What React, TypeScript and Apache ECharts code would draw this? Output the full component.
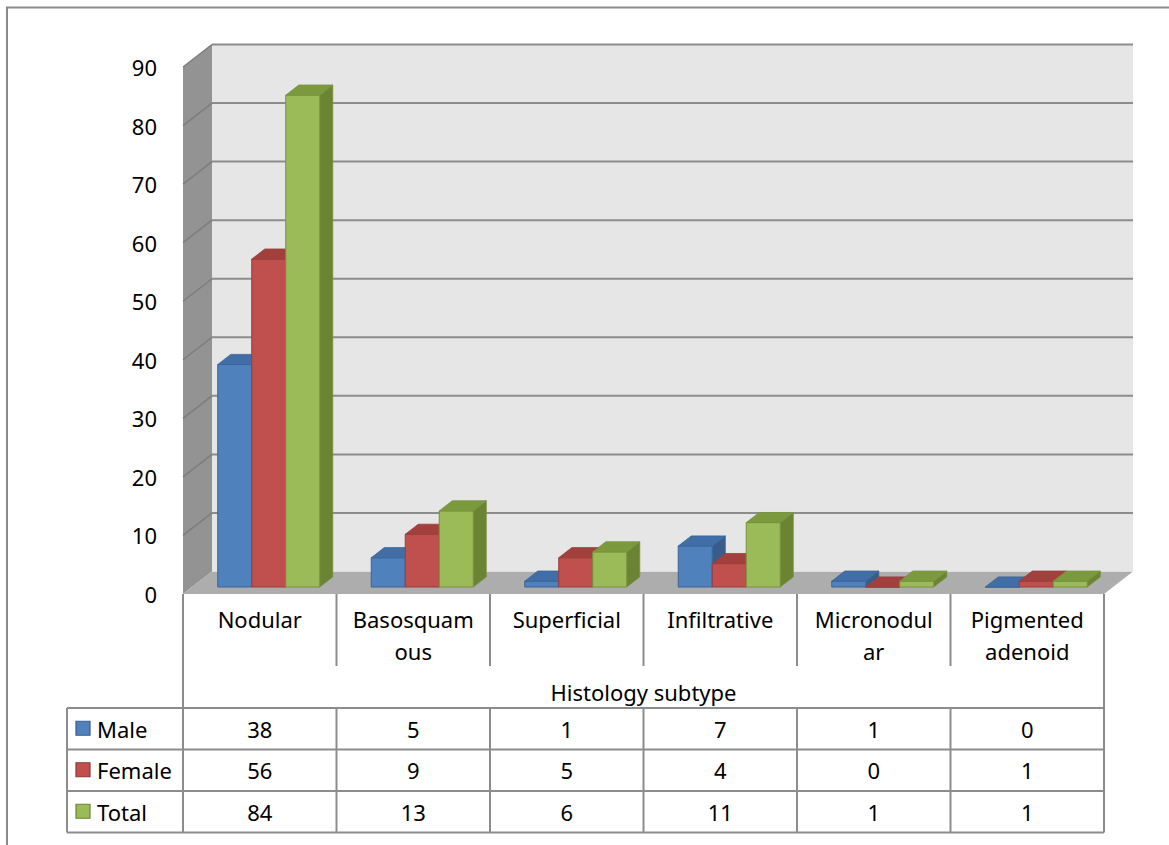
import React, { useEffect, useRef } from "react";
import * as echarts from "echarts";

// ---------- data ----------
const categories = ["Nodular", "Basosquamous", "Superficial", "Infiltrative", "Micronodular", "Pigmented adenoid"];
const categoryLabels = ["Nodular", "Basosquam\nous", "Superficial", "Infiltrative", "Micronodul\nar", "Pigmented\nadenoid"];
const seriesNames = ["Male", "Female", "Total"];
const maleValues = [38, 5, 1, 7, 1, 0];
const femaleValues = [56, 9, 5, 4, 0, 1];
const totalValues = [84, 13, 6, 11, 1, 1];
const yTickValues = [0, 10, 20, 30, 40, 50, 60, 70, 80, 90];
const axisTitle = "Histology subtype";

// ---------- layout / style ----------
const FONT = "'Noto Sans', 'DejaVu Sans', sans-serif";
const GRID = { left: 183, top: 67, width: 921, height: 527 };
const DEPTH = { dx: 29, dy: -22.5 };
const BAR_FRONT = 0.31;
const BAR_BACK = 0.76;
const BAR_RATIO = 0.2215;
const Y_MAX = 90;

const palettes = [
  { front: "#4f81bd", top: "#416ea6", side: "#385d8a", stroke: "#3a6599" },
  { front: "#c0504d", top: "#a2403d", side: "#8c3836", stroke: "#9a3d3a" },
  { front: "#9bbb59", top: "#7b9a3e", side: "#6a8433", stroke: "#76923c" },
];

const allValues = [maleValues, femaleValues, totalValues];

function barSeries(name: string, values: number[], s: number) {
  const pal = palettes[s];
  return {
    type: "custom",
    name,
    clip: false,
    z: 3,
    data: values.map((v, i) => [i, v]),
    encode: { x: 0, y: 1 },
    renderItem: (params: any, api: any) => {
      const cat = api.value(0);
      const val = api.value(1);
      const base = api.coord([cat, 0]);
      const top = api.coord([cat, val]);
      const cw = api.size([1, 0])[0];
      const bw = cw * BAR_RATIO;
      const x0 = base[0] + (s - 1) * bw - bw / 2 + DEPTH.dx * BAR_FRONT;
      const x1 = x0 + bw;
      const yb = base[1] + DEPTH.dy * BAR_FRONT;
      const yt = top[1] + DEPTH.dy * BAR_FRONT;
      const ddx = DEPTH.dx * (BAR_BACK - BAR_FRONT);
      const ddy = DEPTH.dy * (BAR_BACK - BAR_FRONT);
      return {
        type: "group",
        children: [
          {
            type: "polygon",
            shape: { points: [[x1, yt], [x1 + ddx, yt + ddy], [x1 + ddx, yb + ddy], [x1, yb]] },
            style: { fill: pal.side, stroke: pal.stroke, lineWidth: 0.8 },
          },
          {
            type: "rect",
            shape: { x: x0, y: yt, width: bw, height: yb - yt },
            style: { fill: pal.front, stroke: pal.stroke, lineWidth: 1 },
          },
          {
            type: "polygon",
            shape: { points: [[x0, yt], [x1, yt], [x1 + ddx, yt + ddy], [x0 + ddx, yt + ddy]] },
            style: { fill: pal.top, stroke: pal.stroke, lineWidth: 0.8 },
          },
        ],
      };
    },
  };
}

const wallSeries = {
  type: "custom",
  name: "walls",
  clip: false,
  z: 1,
  silent: true,
  data: [[0, 0]],
  encode: { x: 0, y: 1 },
  renderItem: (params: any, api: any) => {
    const cw = api.size([1, 0])[0];
    const c0 = api.coord([0, 0]);
    const L = c0[0] - cw / 2;
    const R = L + cw * categories.length;
    const y0 = c0[1];
    const yTop = api.coord([0, Y_MAX])[1];
    const { dx, dy } = DEPTH;
    const children: any[] = [
      {
        type: "polygon",
        shape: { points: [[L, yTop], [L + dx, yTop + dy], [L + dx, y0 + dy], [L, y0]] },
        style: { fill: "#939393" },
      },
      {
        type: "polygon",
        shape: { points: [[L, y0], [R, y0], [R + dx, y0 + dy], [L + dx, y0 + dy]] },
        style: { fill: "#adadad" },
      },
      {
        type: "rect",
        shape: { x: L + dx, y: yTop + dy, width: R - L, height: y0 - yTop },
        style: { fill: "#e6e6e6" },
      },
    ];
    yTickValues.forEach((v) => {
      const yv = api.coord([0, v])[1];
      if (v > 0) {
        children.push({
          type: "line",
          shape: { x1: L + dx, y1: yv + dy, x2: R + dx, y2: yv + dy },
          style: { stroke: "#8c8c8c", lineWidth: 2 },
        });
        children.push({
          type: "line",
          shape: { x1: L, y1: yv, x2: L + dx, y2: yv + dy },
          style: { stroke: "#7d7d7d", lineWidth: 1.5 },
        });
      }
    });
    return { type: "group", children };
  },
};

function buildTable() {
  const cw = GRID.width / categories.length;
  const L = GRID.left;
  const R = GRID.left + GRID.width;
  const y0 = GRID.top + GRID.height;
  const catRowBottom = 666;
  const tableTop = 708;
  const rowH = 41.5;
  const labelLeft = 67;
  const lineStyle = { stroke: "#8c8c8c", lineWidth: 2 };
  const els: any[] = [];
  const tableBottom = tableTop + rowH * seriesNames.length;

  // outer chart frame
  els.push({
    type: "rect",
    shape: { x: 7, y: 7.5, width: 1400, height: 1100 },
    style: { fill: "none", stroke: "#8a8a8a", lineWidth: 2 },
    silent: true,
  });

  els.push({ type: "line", shape: { x1: L, y1: y0, x2: L, y2: tableBottom }, style: lineStyle });
  els.push({ type: "line", shape: { x1: R, y1: y0, x2: R, y2: tableBottom }, style: lineStyle });
  els.push({ type: "line", shape: { x1: labelLeft, y1: tableTop, x2: labelLeft, y2: tableBottom }, style: lineStyle });
  for (let i = 1; i < categories.length; i++) {
    const x = L + i * cw;
    els.push({ type: "line", shape: { x1: x, y1: y0, x2: x, y2: catRowBottom }, style: lineStyle });
    els.push({ type: "line", shape: { x1: x, y1: tableTop, x2: x, y2: tableBottom }, style: lineStyle });
  }
  for (let r = 0; r <= seriesNames.length; r++) {
    const y = tableTop + r * rowH;
    els.push({ type: "line", shape: { x1: labelLeft, y1: y, x2: R, y2: y }, style: lineStyle });
  }

  els.push({
    type: "text",
    x: (L + R) / 2,
    y: 692,
    style: { text: axisTitle, fill: "#000", fontSize: 22, fontFamily: FONT, align: "center", verticalAlign: "middle" },
  });

  seriesNames.forEach((name, r) => {
    const cy = tableTop + r * rowH + rowH / 2;
    els.push({
      type: "rect",
      shape: { x: 76, y: cy - 7.5, width: 14, height: 14 },
      style: { fill: palettes[r].front, stroke: palettes[r].side, lineWidth: 1.2 },
    });
    els.push({
      type: "text",
      x: 97,
      y: cy,
      style: { text: name, fill: "#000", fontSize: 22, fontFamily: FONT, align: "left", verticalAlign: "middle" },
    });
    allValues[r].forEach((v, i) => {
      els.push({
        type: "text",
        x: L + i * cw + cw / 2,
        y: cy,
        style: { text: String(v), fill: "#000", fontSize: 22, fontFamily: FONT, align: "center", verticalAlign: "middle" },
      });
    });
  });
  return els;
}

export default function App() {
  const ref = useRef<HTMLDivElement>(null);
  useEffect(() => {
    if (!ref.current) return;
    const chart = echarts.init(ref.current, null, { renderer: "svg" });
    chart.setOption({
      animation: false,
      backgroundColor: "#ffffff",
      textStyle: { fontFamily: FONT },
      grid: { ...GRID, containLabel: false, outerBoundsMode: "none" },
      xAxis: {
        type: "category",
        data: categories,
        axisLine: { show: false },
        axisTick: { show: false },
        splitLine: { show: false },
        axisLabel: {
          interval: 0,
          margin: 9,
          fontSize: 22,
          lineHeight: 32,
          color: "#000",
          fontFamily: FONT,
          formatter: (v: string) => categoryLabels[categories.indexOf(v)],
        },
      },
      yAxis: {
        type: "value",
        min: 0,
        max: Y_MAX,
        interval: 10,
        axisLine: { show: false },
        axisTick: { show: false },
        splitLine: { show: false },
        axisLabel: { margin: 26, fontSize: 22, color: "#000", fontFamily: FONT },
      },
      series: [wallSeries, ...seriesNames.map((n, s) => barSeries(n, allValues[s], s))],
      graphic: buildTable(),
    });
    return () => chart.dispose();
  }, []);
  return (
    <div
      ref={ref}
      style={{ position: "fixed", left: 0, top: 0, width: 1169, height: 845, background: "#fff" }}
    />
  );
}
